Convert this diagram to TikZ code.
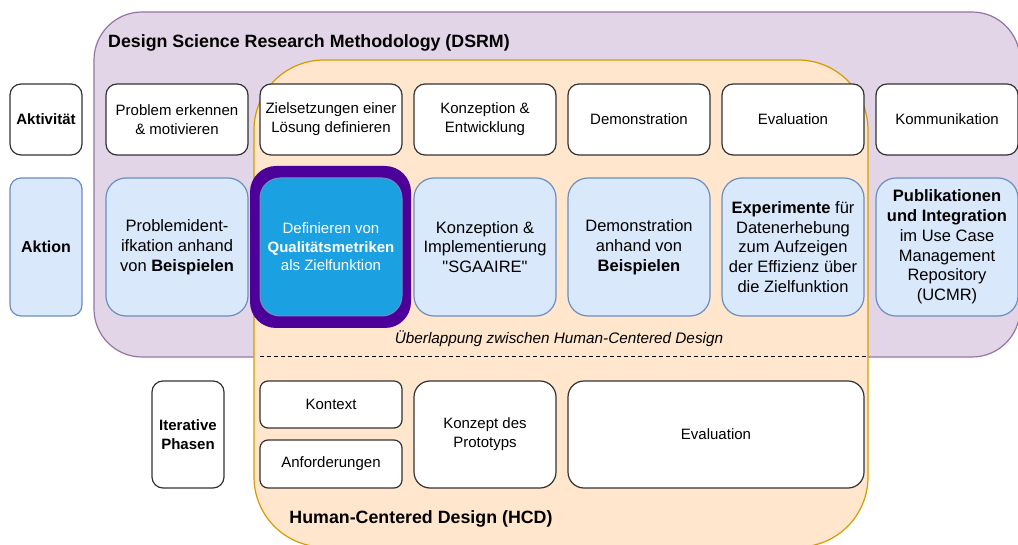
\documentclass[tikz,border=0pt]{standalone}
\usepackage{fontspec}
\setmainfont{Liberation Sans}[Ligatures=TeXOff]
\definecolor{dsrmfill}{HTML}{E1D5E7}
\definecolor{dsrmline}{HTML}{9673A6}
\definecolor{hcdfill}{HTML}{FFE6CC}
\definecolor{hcdline}{HTML}{D79B00}
\definecolor{actfill}{HTML}{DAE8FC}
\definecolor{actline}{HTML}{6C8EBF}
\definecolor{hlfill}{HTML}{1BA1E2}
\definecolor{hlline}{HTML}{4C0099}
\definecolor{boxline}{HTML}{333333}
\begin{document}
\begin{tikzpicture}[x=1pt,y=-1pt,
  region/.style={line width=1.2pt, inner sep=0pt},
  wbox/.style={draw=boxline, fill=white, line width=1.2pt, inner sep=0pt, align=center,
    font=\fontsize{15}{19}\selectfont},
  abox/.style={draw=actline, fill=actfill, line width=1.2pt, inner sep=0pt, align=center,
    font=\fontsize{16.5}{19.8}\selectfont},
  r1/.style={minimum width=142pt, minimum height=71pt, rounded corners=11pt},
  r2/.style={minimum width=142pt, minimum height=138pt, rounded corners=20pt},
  lab/.style={minimum width=72pt, rounded corners=11pt},
  title/.style={inner sep=0pt, font=\fontsize{17.8}{21}\selectfont\bfseries}
]
\useasboundingbox (0,0) rectangle (1018,545);
% regions
\node[region, draw=dsrmline, fill=dsrmfill, minimum width=926pt, minimum height=345pt,
  rounded corners=48pt] (dsrm) at (557,184.5) {};
\node[region, draw=hcdline, fill=hcdfill, minimum width=614pt, minimum height=487pt,
  rounded corners=70pt] (hcd) at (561,303.5) {};
\node[title, anchor=west] (dsrmtitle) at (108,43) {Design Science Research Methodology (DSRM)};
\node[title] (hcdtitle) at (421,519) {Human-Centered Design (HCD)};
\node[inner sep=0pt, font=\fontsize{15.3}{18}\selectfont\itshape] (overlap) at (559,339)
  {Überlappung zwischen Human-Centered Design};
\coordinate (dashL) at (260,357);
\coordinate (dashR) at (868,357);
\draw[dashed, line width=1pt, dash pattern=on 4pt off 3pt] (dashL) -- (dashR);
% row 1
\node[wbox, lab, minimum height=71pt, font=\fontsize{15}{19}\selectfont\bfseries] (aktiv) at (46,119.5) {Aktivität};
\node[wbox, r1] (a1) at (177,119.5) {Problem erkennen\\\& motivieren};
\node[wbox, r1] (a2) at (331,119.5) {Zielsetzungen einer\\Lösung definieren};
\node[wbox, r1] (a3) at (485,119.5) {Konzeption \&\\Entwicklung};
\node[wbox, r1] (a4) at (639,119.5) {Demonstration};
\node[wbox, r1] (a5) at (793,119.5) {Evaluation};
\node[wbox, r1] (a6) at (947,119.5) {Kommunikation};
% row 2
\node[abox, lab, minimum height=138pt, font=\fontsize{16}{19}\selectfont\bfseries] (aktion) at (46,247) {Aktion};
\node[abox, r2] (b1) at (177,247) {Problemident-\\ifkation anhand\\von \textbf{Beispielen}};
\node[fill=hlline, inner sep=0pt, minimum width=161pt, minimum height=162pt,
  rounded corners=26pt] (hl) at (330.5,247) {};
\node[draw=actline, fill=hlfill, line width=1pt, inner sep=0pt, align=center, text=white,
  r2, font=\fontsize{15}{18.5}\selectfont] (b2) at (331,247)
  {Definieren von\\\textbf{Qualitätsmetriken}\\als Zielfunktion};
\node[abox, r2] (b3) at (485,247) {Konzeption \&\\Implementierung\\"SGAAIRE"};
\node[abox, r2] (b4) at (639,247) {Demonstration\\anhand von\\\textbf{Beispielen}};
\node[abox, r2] (b5) at (793,247) {\textbf{Experimente} für\\Datenerhebung\\zum Aufzeigen\\der Effizienz über\\die Zielfunktion};
\node[abox, r2] (b6) at (947,247) {\textbf{Publikationen}\\\textbf{und Integration}\\im Use Case\\Management\\Repository\\(UCMR)};
% row 3
\node[wbox, lab, minimum height=107pt, font=\fontsize{15}{19}\selectfont\bfseries] (iter) at (188,434.5) {Iterative\\Phasen};
\node[wbox, minimum width=142pt, minimum height=47pt, rounded corners=8pt] (c1) at (331,404.5) {Kontext};
\node[wbox, minimum width=142pt, minimum height=48pt, rounded corners=8pt] (c2) at (331,464) {Anforderungen};
\node[wbox, minimum width=142pt, minimum height=107pt, rounded corners=16pt] (c3) at (485,434.5) {Konzept des\\Prototyps};
\node[wbox, minimum width=296pt, minimum height=107pt, rounded corners=16pt] (c4) at (716,434.5) {Evaluation};
\end{tikzpicture}
\end{document}
